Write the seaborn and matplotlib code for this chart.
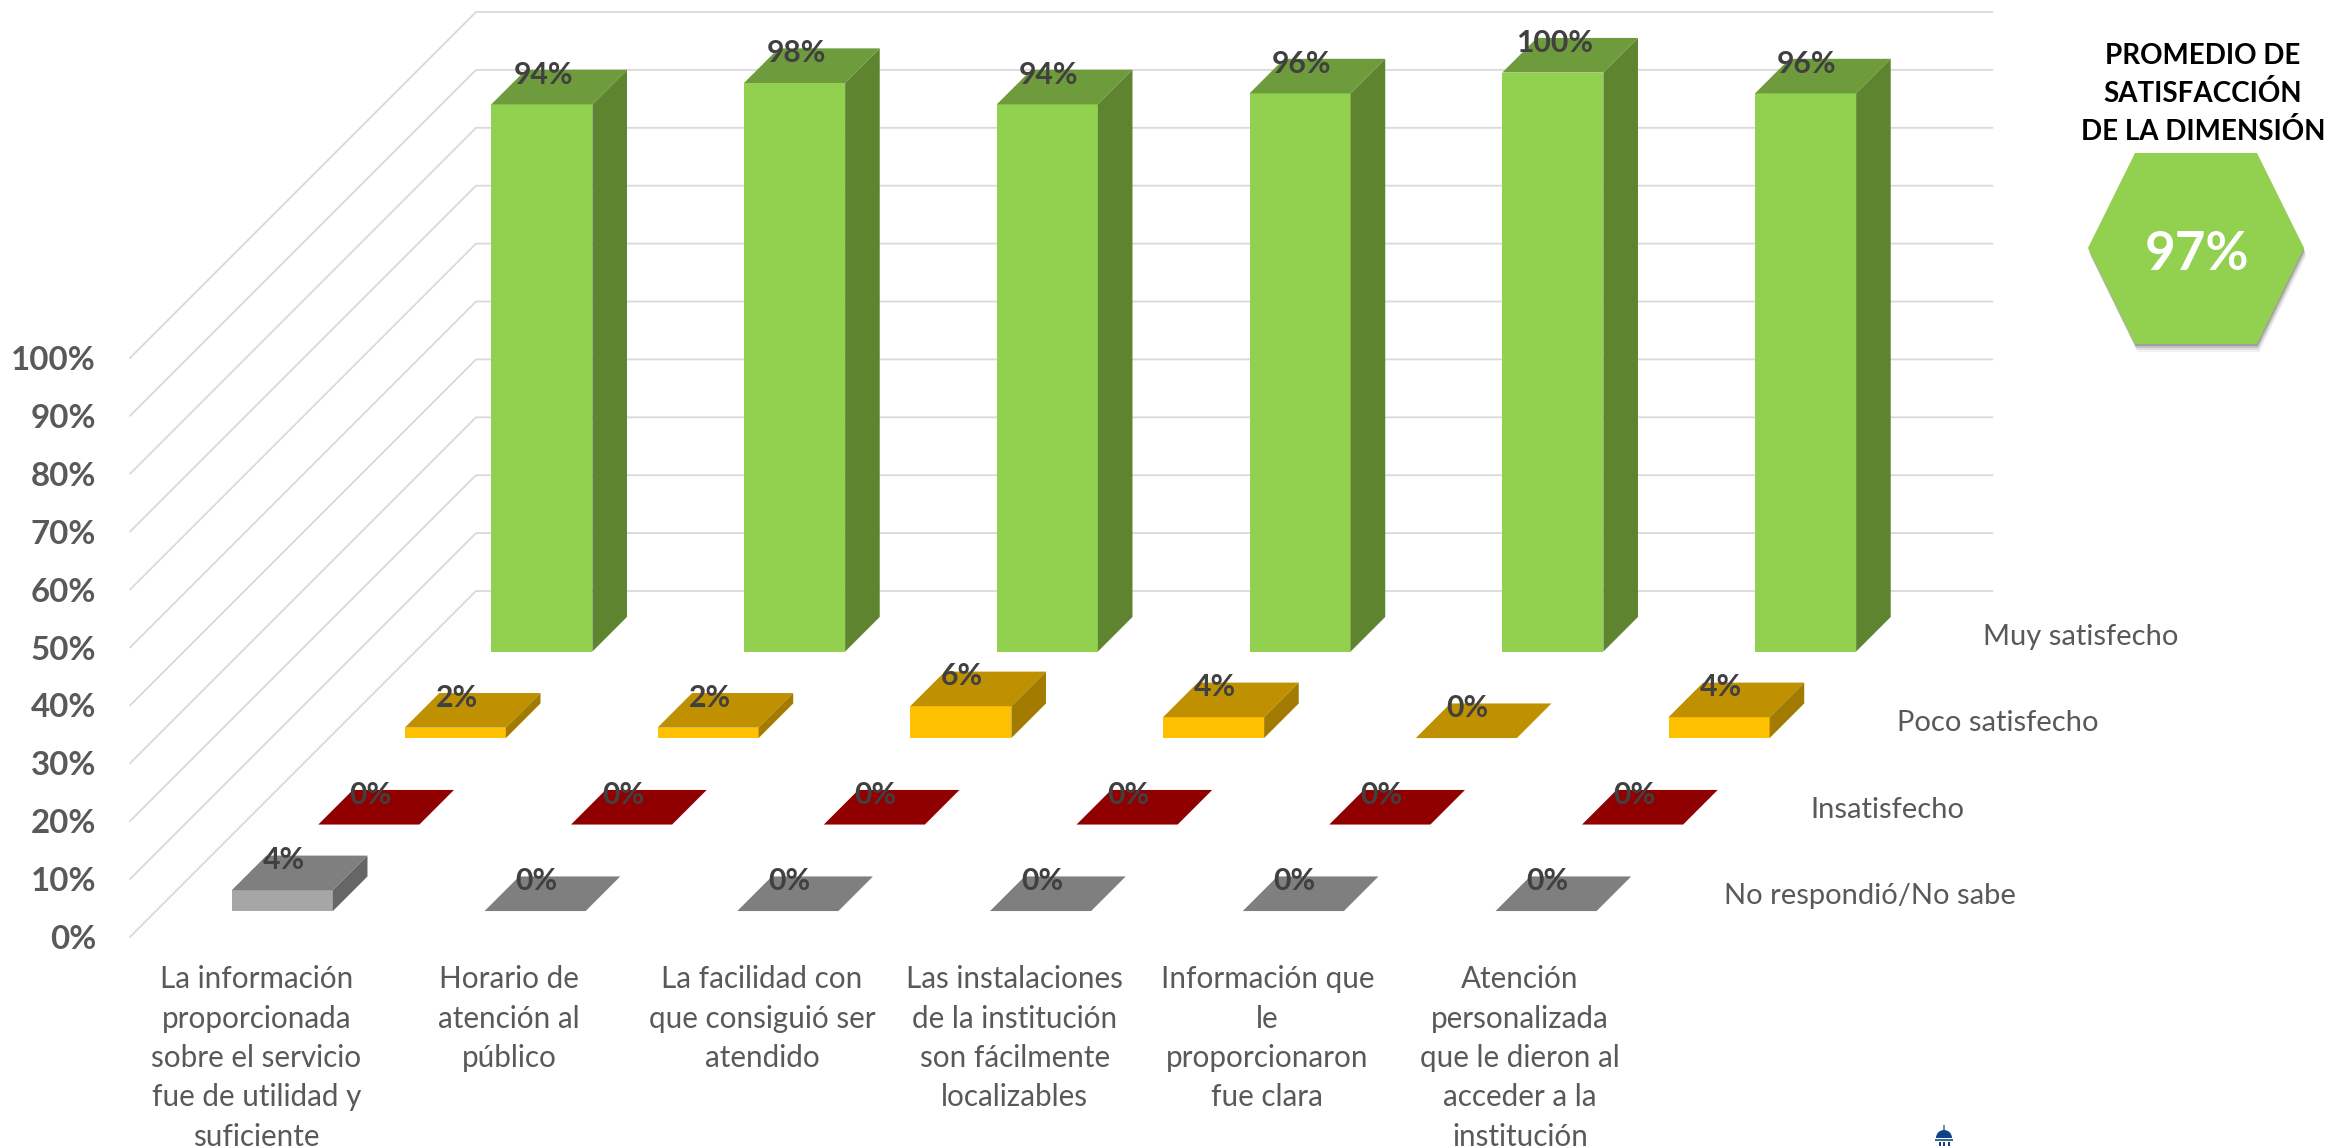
import numpy as np
import pandas as pd
import matplotlib
matplotlib.use("Agg")
import matplotlib.pyplot as plt
from matplotlib.patches import Polygon, Wedge, Rectangle
import seaborn as sns

categories = [
    "La información\nproporcionada\nsobre el servicio\nfue de utilidad y\nsuficiente",
    "Horario de\natención al\npúblico",
    "La facilidad con\nque consiguió ser\natendido",
    "Las instalaciones\nde la institución\nson fácilmente\nlocalizables",
    "Información que\nle\nproporcionaron\nfue clara",
    "Atención\npersonalizada\nque le dieron al\nacceder a la\ninstitución",
]
series_names = ["No respondió/No sabe", "Insatisfecho", "Poco satisfecho", "Muy satisfecho"]
no_responde = [3.6, 0, 0, 0, 0, 0]
insatisfecho = [0, 0, 0, 0, 0, 0]
poco = [1.8, 1.8, 5.5, 3.6, 0, 3.6]
muy = [94.5, 98.2, 94.5, 96.4, 100, 96.4]
no_responde_labels = ["4%", "0%", "0%", "0%", "0%", "0%"]
insatisfecho_labels = ["0%", "0%", "0%", "0%", "0%", "0%"]
poco_labels = ["2%", "2%", "6%", "4%", "0%", "4%"]
muy_labels = ["94%", "98%", "94%", "96%", "100%", "96%"]
series_values = [no_responde, insatisfecho, poco, muy]
series_labels = [no_responde_labels, insatisfecho_labels, poco_labels, muy_labels]
front_colors = ["#A6A6A6", "#C00000", "#FFC000", "#92D050"]
top_colors = ["#7F7F7F", "#900000", "#BF9000", "#6E9B3C"]
side_colors = ["#666666", "#700000", "#A37B00", "#5E8430"]
y_ticks = list(range(0, 101, 10))
promedio = "97%"
promedio_title = "PROMEDIO DE\nSATISFACCIÓN\nDE LA DIMENSIÓN"

W, H = 2351, 1146
X0, Y0 = 130.0, 937.0       # front-left corner of the floor, pixels
PLOT_W, PLOT_H = 1516.5, 579.0
ROW = 86.5                  # pixel depth of one series row
FONT = "Lato"
GRID = "#D9D9D9"
TXT = "#595959"

sns.set_theme(style="white")
plt.rcParams["font.family"] = [FONT, "DejaVu Sans"]
fig = plt.figure(figsize=(W / 100, H / 100), dpi=100, facecolor="white")


def axes_at(depth):
    ax = fig.add_axes([(X0 + ROW * depth) / W, 1 - (Y0 - ROW * depth) / H, PLOT_W / W, PLOT_H / H])
    ax.set_xlim(-0.5, 5.5)
    ax.set_ylim(0, 100)
    ax.patch.set_alpha(0)
    sns.despine(ax=ax, left=True, bottom=True)
    return ax


# front plane: value axis, category labels and the walls of the 3D box
base = axes_at(0)
deep_x = 4 * ROW * 6 / PLOT_W
deep_y = 4 * ROW * 100 / PLOT_H
for v in y_ticks:
    base.plot([-0.5, -0.5 + deep_x, 5.5 + deep_x], [v, v + deep_y, v + deep_y],
              color=GRID, lw=1.3, clip_on=False, zorder=0)
base.set_xticks(range(6))
base.set_xticklabels(categories, fontsize=21.3, color=TXT, linespacing=1.49, va="top")
base.set_yticks(y_ticks)
base.set_yticklabels([f"{v}%" for v in y_ticks], fontsize=23.8, color=TXT, fontweight="bold")
base.tick_params(axis="both", length=0)
base.tick_params(axis="x", pad=20.5)
base.tick_params(axis="y", pad=24.5)

# one shifted axes per series row, back row drawn first
bar_w = 0.4
for r in [3, 2, 1, 0]:
    d = r + 0.3
    ax = axes_at(d)
    ax.set_zorder(2 + 3 - r)
    vals = series_values[r]
    df = pd.DataFrame({"cat": range(6), "val": vals})
    sns.barplot(data=df, x="cat", y="val", ax=ax, color=front_colors[r], width=bar_w,
                saturation=1, order=range(6), linewidth=0, errorbar=None)
    ax.set_xlim(-0.5, 5.5)
    ax.set_ylim(0, 100)
    ax.axis("off")
    dx = 0.4 * ROW * 6 / PLOT_W
    dy = 0.4 * ROW * 100 / PLOT_H
    for c, v in enumerate(vals):
        l, rr = c - bar_w / 2, c + bar_w / 2
        ax.add_patch(Polygon([(l, v), (rr, v), (rr + dx, v + dy), (l + dx, v + dy)],
                             fc=top_colors[r], ec="none", clip_on=False))
        if v > 0:
            ax.add_patch(Polygon([(rr, 0), (rr + dx, dy), (rr + dx, v + dy), (rr, v)],
                                 fc=side_colors[r], ec="none", clip_on=False))
        ax.annotate(series_labels[r][c], (c, v), xytext=(1, 21.5), textcoords="offset points",
                    ha="center", va="center", fontsize=21.7, fontweight="bold",
                    color="#404040", annotation_clip=False, zorder=6)
    ax.annotate(series_names[r], (5.5, 0),
                xytext=((1724 + r * 86.3 - (X0 + ROW * d + PLOT_W)) * 0.72,
                        (Y0 - ROW * d - (896 - r * 86.5)) * 0.72),
                textcoords="offset points", ha="left", va="center",
                fontsize=21, color=TXT, annotation_clip=False)

# summary badge on the right
overlay = fig.add_axes([0, 0, 1, 1], zorder=20)
overlay.set_xlim(0, W)
overlay.set_ylim(H, 0)
overlay.axis("off")
hexagon = [(2135, 153), (2257, 153), (2304, 248), (2257, 344), (2135, 344), (2088, 248)]
for off, a in [(8, 0.05), (6, 0.08), (4, 0.12), (2, 0.18)]:
    overlay.add_patch(Polygon([(x + off * 0.3, y + off) for x, y in hexagon], fc="black", alpha=a, ec="none"))
overlay.add_patch(Polygon(hexagon, fc="#92D050", ec="none"))
overlay.text(2197, 255, promedio, color="white", fontsize=38, fontweight="bold", ha="center", va="center")
overlay.text(2203, 94, promedio_title, color="black", fontsize=20, fontweight="bold",
             ha="center", va="center", linespacing=1.5)

# small institution emblem at the bottom edge
navy = "#0F4384"
overlay.add_patch(Wedge((1944, 1138), 8, 180, 360, fc=navy, ec="none"))
overlay.add_patch(Rectangle((1943.4, 1125), 1.2, 5, fc=navy, ec="none", alpha=0.6))
overlay.add_patch(Rectangle((1935, 1139), 18, 2, fc=navy, ec="none", alpha=0.8))
for cx in (1938.5, 1943, 1947.5):
    overlay.add_patch(Rectangle((cx, 1142), 2.2, 4, fc=navy, ec="none"))

fig.savefig("out.png", dpi=100, facecolor="white")
